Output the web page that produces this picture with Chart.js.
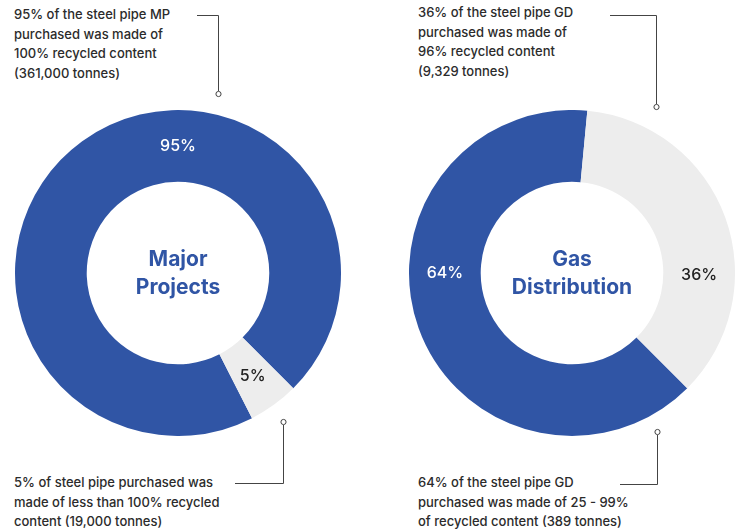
<!DOCTYPE html>
<html>
<head>
<meta charset="utf-8">
<script src="https://cdn.jsdelivr.net/npm/chart.js@4"></script>
<style>
  body { margin: 0; background: #fff; font-family: Inter, 'Noto Sans', sans-serif; }
  #page { position: relative; width: 737px; height: 531px; overflow: hidden; }
  .box { position: absolute; width: 326px; height: 326px; top: 110px; }
  .note { position: absolute; font-size: 13px; font-weight: 500; line-height: 19.5px; color: #2b2b2b; white-space: nowrap; }
  svg { position: absolute; left: 0; top: 0; }
</style>
</head>
<body>
<div id="page">
  <div class="box" style="left:15px"><canvas id="mpChart"></canvas></div>
  <div class="box" style="left:409px"><canvas id="gdChart"></canvas></div>

  <div class="note" style="left:14px; top:5px">95% of the steel pipe MP<br>purchased was made of<br>100% recycled content<br>(361,000 tonnes)</div>
  <div class="note" style="left:418px; top:3px">36% of the steel pipe GD<br>purchased was made of<br>96% recycled content<br>(9,329 tonnes)</div>
  <div class="note" style="left:14px; top:473px">5% of steel pipe purchased was<br>made of less than 100% recycled<br>content (19,000 tonnes)</div>
  <div class="note" style="left:418px; top:473px">64% of the steel pipe GD<br>purchased was made of 25 - 99%<br>of recycled content (389 tonnes)</div>

  <svg width="737" height="531">
    <g fill="none" stroke="#444" stroke-width="1">
      <polyline points="197,15.5 218.5,15.5 218.5,91" />
      <circle cx="218.5" cy="94" r="2.6" fill="#fff" />
      <polyline points="610,15.5 656.5,15.5 656.5,104" />
      <circle cx="656.5" cy="107" r="2.6" fill="#fff" />
      <polyline points="235,483.5 283.5,483.5 283.5,425" />
      <circle cx="283.5" cy="422" r="2.6" fill="#fff" />
      <polyline points="620,484.5 657.5,484.5 657.5,435" />
      <circle cx="657.5" cy="432" r="2.6" fill="#fff" />
    </g>
  </svg>
</div>

<script>
'use strict';

// Major Projects
let mpLabels = ['100% recycled', 'less than 100% recycled'];
let mpValues = [95, 5];
let mpTitle = ['Major', 'Projects'];

// Gas Distribution
let gdLabels = ['25 - 99% recycled', '96% recycled'];
let gdValues = [64, 36];
let gdTitle = ['Gas', 'Distribution'];

let blue = '#3055a5';
let grey = '#ededed';

// draws the title in the hole and the % on each slice
let donutText = {
  id: 'donutText',
  afterDatasetsDraw(chart, args, opts) {
    let ctx = chart.ctx;
    let arcs = chart.getDatasetMeta(0).data;
    let cx = arcs[0].x;
    let cy = arcs[0].y;
    let midR = (arcs[0].innerRadius + arcs[0].outerRadius) / 2;
    let values = chart.data.datasets[0].data;
    ctx.save();
    ctx.textAlign = 'center';
    ctx.textBaseline = 'middle';
    ctx.fillStyle = blue;
    ctx.font = 'bold 21px Inter, sans-serif';
    ctx.fillText(opts.title[0], cx, cy - 13);
    ctx.fillText(opts.title[1], cx, cy + 15);
    ctx.font = '500 16px Inter, sans-serif';
    for (let i = 0; i < values.length; i++) {
      let a = (opts.angles[i] - 90) * Math.PI / 180;
      ctx.fillStyle = opts.colors[i];
      ctx.fillText(values[i] + '%', cx + Math.cos(a) * midR, cy + Math.sin(a) * midR);
    }
    ctx.restore();
  }
};

function makeDonut(id, labels, values, rotation, title, angles) {
  let ctx = document.getElementById(id).getContext('2d');
  return new Chart(ctx, {
    type: 'doughnut',
    data: {
      labels: labels,
      datasets: [{
        data: values,
        backgroundColor: [blue, grey],
        borderWidth: 0
      }]
    },
    options: {
      responsive: true,
      maintainAspectRatio: false,
      animation: false,
      cutout: '56%',
      rotation: rotation,
      layout: { padding: 0 },
      plugins: {
        legend: { display: false },
        tooltip: { enabled: false },
        donutText: { title: title, angles: angles, colors: ['#fff', '#222'] }
      }
    },
    plugins: [donutText]
  });
}

makeDonut('mpChart', mpLabels, mpValues, 153, mpTitle, [0, 144]);
makeDonut('gdChart', gdLabels, gdValues, 135, gdTitle, [270, 91]);
</script>
</body>
</html>
